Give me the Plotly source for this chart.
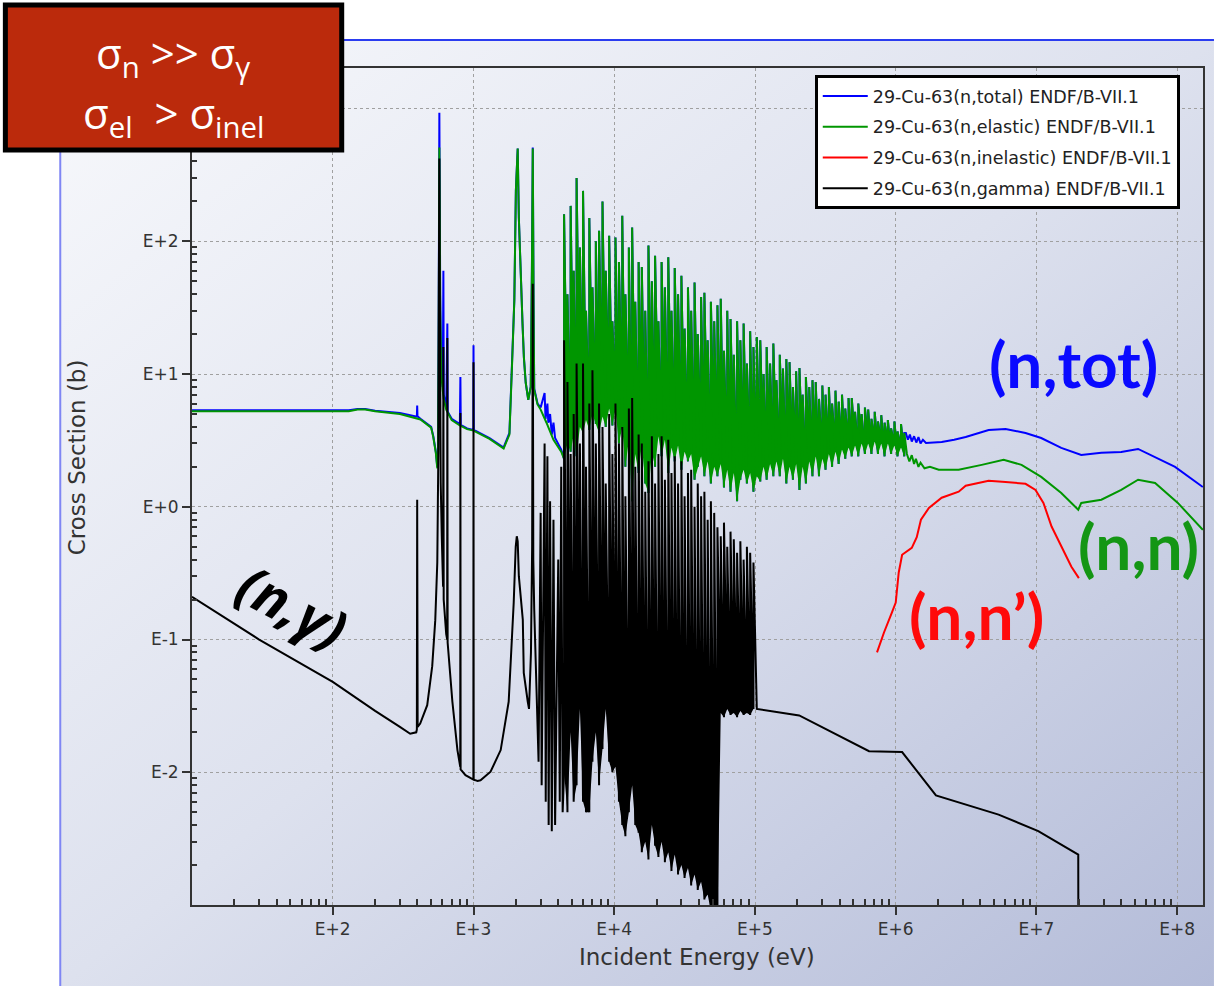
import base64
import plotly.graph_objects as go

# ---------------- data (energies in eV, cross sections in barns) ----------------
# total, low-energy region
tot_lo_E = [10, 130, 150, 170, 200, 300, 390, 396, 398, 400, 420, 500, 518, 540, 553, 560, 566, 570, 572, 575,
            580, 590, 605, 611, 615, 640, 652, 656, 700, 800, 807, 812, 900, 998, 1000, 1005, 1300, 1637, 1800, 1880,
            1950, 2000, 2061, 2100, 2170, 2230, 2280, 2350, 2450, 2550, 2600, 2637, 2670, 2700, 2850, 3000, 3200,
            3250, 3350, 3400, 3500, 3600, 3700, 3800, 4200]
tot_lo_s = [5.35, 5.35, 5.45, 5.45, 5.3, 5.1, 4.8, 4.8, 5.8, 4.8, 4.6, 4.0, 3.4, 2.6, 2.0, 2.5, 30, 400, 930, 300,
            40, 12, 8, 60, 7, 5.5, 24, 5.2, 4.6, 4.2, 9.5, 4.15, 3.9, 3.8, 16.5, 3.8, 3.3, 2.8, 3.6, 12,
            36, 240, 500, 150, 43, 24, 13.4, 8.6, 6.4, 8, 60, 510, 40, 7.8, 6, 5.6, 7.2,
            4.6, 6.0, 4.3, 5.0, 3.5, 4.3, 3.3, 2.7]

# elastic, low-energy region
el_lo_E = [10, 130, 150, 170, 200, 300, 420, 500, 518, 540, 553, 560, 566, 570, 572, 575, 580, 590, 605, 615,
           640, 700, 800, 900, 1000, 1300, 1637, 1800, 1880, 1950, 2000, 2061, 2100, 2170, 2230, 2280, 2350, 2450,
           2550, 2600, 2637, 2670, 2700, 2850, 3000, 3300, 3700, 4200]
el_lo_s = [5.25, 5.25, 5.4, 5.4, 5.25, 5.0, 4.55, 3.95, 3.35, 2.55, 1.95, 2.4, 20, 300, 509, 200, 30, 10, 7.5, 6.5,
           5.4, 4.5, 4.1, 3.85, 3.75, 3.25, 2.75, 3.5, 12, 36, 240, 500, 150, 43, 24, 13.4, 8.6, 6.4,
           8, 60, 500, 40, 7.6, 5.9, 5.4, 4.3, 3.2, 2.6]

# capture, low-energy region
cap_lo_E = [10, 30, 100, 200, 300, 355, 392, 396, 398, 401, 418, 469, 509, 535, 553, 563, 568, 572, 576, 585,
            595, 608, 611, 614, 640, 650, 652, 655, 708, 769, 805, 807, 810, 877, 921, 998, 1000, 1003, 1068, 1122,
            1322, 1560, 1778, 1931, 1995, 2030, 2061, 2100, 2240, 2276, 2430, 2480, 2560, 2610, 2637, 2660, 2700,
            2800, 2900, 3000, 3050, 3200, 3260, 3350, 3420, 3500, 3600, 3700, 3800, 4000, 4100, 4200, 4300]
cap_lo_s = [0.21, 0.10, 0.048, 0.029, 0.022, 0.0195, 0.020, 0.021, 1.13, 0.022, 0.0233, 0.032, 0.063, 0.14, 0.38,
            2.7, 60, 420, 50, 1.5, 0.6, 0.25, 16, 0.2, 0.11, 0.1, 18.7, 0.095, 0.034, 0.0147, 0.011, 5.1, 0.0105,
            0.0095, 0.0092, 0.0088, 12.3, 0.0088, 0.0086, 0.0087, 0.0101, 0.0147, 0.034, 0.19, 0.5, 0.6, 0.55, 0.3,
            0.141, 0.056, 0.034, 0.030, 0.08, 0.5, 48, 0.4, 0.17, 0.035, 0.012, 0.9, 0.008, 3.0, 0.006, 2.4, 0.004,
            1.1, 0.0036, 0.8, 0.004, 0.4, 0.006, 2.0, 0.005]

# resolved/unresolved resonance region: resonance energies (keV) with peak and valley values
res_E_keV = [4.4, 4.65, 4.9, 5.15, 5.4, 5.7, 6.0, 6.3, 6.65, 7.0,
             7.4, 7.8, 8.25, 8.7, 9.2, 9.7, 10.2, 10.8, 11.4, 12.0,
             12.7, 13.4, 14.1, 14.9, 15.7, 16.6, 17.5, 18.5, 19.5, 20.6,
             21.7, 22.9, 24.2, 25.5, 26.9, 28.4, 30.0, 31.6, 33.4, 35.2,
             37.2, 39.2, 41.4, 43.7, 46.1, 48.6, 51.3, 54.1, 57.1, 60.2,
             63.5, 67.0, 70.7, 74.6, 78.7, 83.0, 87.6, 92.4, 97.5, 103,
             109, 115, 121, 128, 135, 142, 150, 158, 167, 176,
             186, 196, 207, 218, 230, 243, 256, 270, 285, 301,
             317, 335, 353, 373, 393, 415, 438, 462, 487, 514,
             542, 572, 604, 637, 672, 709, 748, 789, 833, 879,
             927, 978, 1030, 1090, 1150]
el_res_top = [160, 40, 185, 60, 300, 90, 240, 30, 150, 45,
              100, 120, 200, 60, 110, 25, 107, 70, 156, 40,
              90, 127, 35, 70, 64, 30, 93, 50, 78, 25,
              70, 45, 76, 30, 63, 40, 55, 22, 45, 30,
              49, 20, 38, 41, 18, 35, 25, 33, 37, 15,
              30, 26, 14, 25, 18, 24, 12, 21, 16, 19,
              18, 10, 16, 12, 17, 9, 14, 11, 13, 12.3,
              8, 10.5, 11.1, 7, 9.5, 8, 9, 8.7, 6.5, 8.2,
              7, 8.0, 6, 7.5, 6.2, 7.0, 5.5, 6.6, 6.6, 5.2,
              6.0, 5.0, 5.6, 5.4, 4.6, 5.2, 4.4, 4.9, 4.3, 4.5,
              3.9, 4.4, 3.7, 4.2, 3.6]
el_res_bot = [2.3, 3.0, 2.6, 3.5, 2.4, 4.0, 3.6, 4.5, 3.8, 5.0,
              4.2, 3.6, 4.8, 4.0, 5.5, 4.1, 5.4, 3.0, 4.0, 2.0,
              3.2, 1.1, 2.5, 1.8, 3.0, 1.5, 1.27, 2.6, 2.0, 3.4,
              2.4, 3.2, 1.8, 2.8, 2.2, 2.9, 1.9, 2.6, 2.2, 2.5,
              1.6, 2.0, 2.4, 1.7, 2.2, 1.5, 2.0, 1.7, 2.1, 1.4,
              1.9, 1.3, 1.8, 1.1, 1.6, 1.9, 1.5, 1.8, 1.3, 1.7,
              1.55, 2.0, 1.6, 2.1, 1.7, 2.2, 1.7, 2.3, 1.5, 2.0,
              1.6, 2.1, 1.34, 2.0, 1.5, 2.2, 1.7, 2.4, 1.7, 2.3,
              1.9, 2.5, 2.0, 2.6, 2.1, 2.7, 2.3, 2.8, 2.4, 2.9,
              2.4, 3.0, 2.5, 3.0, 2.5, 3.1, 2.5, 3.0, 2.4, 3.0,
              2.5, 2.9, 2.4, 2.8, 2.4]
cap_res_top = [18, 8.7, 2.5, 5, 12, 3, 12, 2, 6, 10.7,
               3, 6, 4, 1.5, 5, 2.5, 6, 3, 4, 1.2,
               5.5, 6.6, 2, 3.5, 3.0, 1.3, 2.2, 3.4, 1.5, 2.5,
               3.4, 1.6, 3.2, 1.8, 2.4, 1.5, 2.2, 1.2, 1.8, 1.9,
               1.0, 1.5, 1.2, 1.3, 0.8, 1.1, 0.9, 0.7, 0.6, 0.76,
               0.5, 0.65, 0.57, 0.45, 0.55, 0.4, 0.5, 0.45, 0.38]
cap_res_bot = [0.01, 0.005, 0.02, 0.006, 0.008, 0.03, 0.006, 0.005, 0.005, 0.012,
               0.02, 0.008, 0.015, 0.03, 0.012, 0.01, 0.011, 0.006, 0.004, 0.0033,
               0.005, 0.008, 0.004, 0.0035, 0.0025, 0.003, 0.0022, 0.004, 0.0028, 0.0023,
               0.003, 0.0021, 0.0025, 0.0018, 0.0024, 0.0017, 0.002, 0.0016, 0.0019, 0.0014,
               0.0017, 0.0013, 0.0015, 0.0011, 0.0012, 0.0009, 0.0008, 0.0007, 0.028, 0.026,
               0.03, 0.027, 0.028, 0.026, 0.029, 0.027, 0.028, 0.027, 0.03]

# high-energy region
tot_hi_E = [1.18e6, 1.22e6, 1.26e6, 1.3e6, 1.35e6, 1.4e6, 1.45e6, 1.5e6, 1.56e6, 1.64e6,
            1.8e6, 2.12e6, 2.6e6, 3.14e6, 4.57e6, 6.03e6, 8.36e6, 1.08e7, 1.5e7, 2.08e7,
            2.89e7, 4.0e7, 5.27e7, 6.96e7, 9.65e7, 1.52e8]
tot_hi_s = [3.6, 3.2, 3.5, 3.1, 3.4, 3.05, 3.35, 3.0, 3.2, 3.03,
            3.05, 3.08, 3.2, 3.36, 3.79, 3.86, 3.60, 3.30, 2.78, 2.46,
            2.55, 2.59, 2.73, 2.38, 2.0, 1.41]
el_hi_E = [1.2e6, 1.25e6, 1.3e6, 1.35e6, 1.39e6, 1.45e6, 1.5e6, 1.6e6, 1.75e6, 2.02e6,
           2.8e6, 4.08e6, 5.84e6, 7.83e6, 1.08e7, 1.5e7, 1.98e7, 2.08e7, 2.89e7, 4.0e7,
           5.27e7, 6.96e7, 1.01e8, 1.52e8]
el_hi_s = [2.5, 2.2, 2.45, 2.1, 2.3, 2.0, 2.15, 1.95, 2.0, 1.90,
           1.90, 2.07, 2.26, 2.07, 1.68, 1.27, 0.95, 1.07, 1.13, 1.34,
           1.60, 1.51, 1.07, 0.67]
inel_E = [7.36e5, 8.25e5, 9.4e5, 1.0e6, 1.05e6, 1.11e6, 1.30e6, 1.41e6, 1.51e6, 1.72e6,
          2.12e6, 2.8e6, 3.14e6, 4.57e6, 6.03e6, 8.36e6, 9.84e6, 1.12e7, 1.28e7, 1.5e7,
          1.77e7, 2.0e7]
inel_s = [0.080, 0.113, 0.16, 0.19, 0.32, 0.435, 0.49, 0.59, 0.80, 0.98,
          1.17, 1.30, 1.44, 1.57, 1.54, 1.49, 1.34, 1.07, 0.71, 0.50,
          0.354, 0.29]
cap_hi_E = [1.03e5, 2.06e5, 6.46e5, 1.11e6, 1.93e6, 5.38e6, 1.03e7, 1.98e7, 2.0e7]
cap_hi_s = [0.030, 0.0268, 0.0144, 0.0142, 0.0067, 0.0048, 0.0036, 0.0024, 1e-6]

# axis ticks (the E+3 label sits under the red box in the reference, so it is left blank)
x_tick_vals = [1e2, 1e3, 1e4, 1e5, 1e6, 1e7, 1e8]
x_tick_text = ["E+2", "E+3", "E+4", "E+5", "E+6", "E+7", "E+8"]
y_tick_vals = [1e-2, 1e-1, 1e0, 1e1, 1e2, 1e3]
y_tick_text = ["E-2", "E-1", "E+0", "E+1", "E+2", ""]

series_names = ["29-Cu-63(n,total) ENDF/B-VII.1", "29-Cu-63(n,elastic) ENDF/B-VII.1",
                "29-Cu-63(n,inelastic) ENDF/B-VII.1", "29-Cu-63(n,gamma) ENDF/B-VII.1"]
BLUE, GREEN, RED, BLACK = "#0000ff", "#009600", "#ff0000", "#000000"


# ---------------- build line paths ----------------
def zigzag(E_keV, top, bot):
    xs, ys = [], []
    for e, t, b in zip(E_keV, top, bot):
        xs += [e * 1e3, e * 1e3]
        ys += [b, t]
    return xs, ys


n_cap = len(cap_res_top)
res_E_eV = [e * 1e3 for e in res_E_keV]
el_zx, el_zy = zigzag(res_E_keV, el_res_top, el_res_bot)
cap_zx, cap_zy = zigzag(res_E_keV[:n_cap], cap_res_top, cap_res_bot)

tot_x = tot_lo_E + el_zx + tot_hi_E
tot_y = tot_lo_s + el_zy + tot_hi_s
el_x = el_lo_E + el_zx + el_hi_E
el_y = el_lo_s + el_zy + el_hi_s
cap_x = cap_lo_E + cap_zx + cap_hi_E
cap_y = cap_lo_s + cap_zy + cap_hi_s

# ---------------- figure geometry (pixels) ----------------
W, H = 1216, 986
PL, PR, PT, PB = 192, 1205, 68, 905


def px(x):
    return (x - PL) / (PR - PL)


def py(y):
    return (PB - y) / (PB - PT)


fig = go.Figure()


def line(xs, ys, color, name=None, width=2):
    fig.add_trace(go.Scatter(x=xs, y=ys, mode="lines", name=name, legendgroup=name,
                             showlegend=name is not None,
                             line=dict(color=color, width=width), hoverinfo="skip"))


def band(xs_bot, ys_bot, xs_zig, ys_zig, color):
    fig.add_trace(go.Scatter(x=xs_bot, y=ys_bot, mode="lines", showlegend=False,
                             line=dict(color=color, width=0), hoverinfo="skip"))
    fig.add_trace(go.Scatter(x=xs_zig, y=ys_zig, mode="lines", showlegend=False, fill="tonexty",
                             fillcolor=color, line=dict(color=color, width=0), hoverinfo="skip"))


line(tot_x, tot_y, BLUE, series_names[0])
band(res_E_eV, el_res_bot, el_zx, el_zy, GREEN)
line(el_x, el_y, GREEN, series_names[1])
line(inel_E, inel_s, RED, series_names[2])
band(res_E_eV[:n_cap], cap_res_bot, cap_zx, cap_zy, BLACK)
line(cap_x, cap_y, BLACK, series_names[3])

minor_x = [m * d for d in [1e1, 1e2, 1e3, 1e4, 1e5, 1e6, 1e7, 1e8] for m in range(2, 10)]
minor_y = [m * d for d in [1e-3, 1e-2, 1e-1, 1e0, 1e1, 1e2, 1e3] for m in range(2, 10)]

axis_common = dict(type="log", showline=True, linecolor="#333333", linewidth=2, mirror=True,
                   ticks="outside", ticklen=8, tickwidth=1.5, tickcolor="#333333",
                   showgrid=True, gridcolor="#a0a0a0", griddash="dot", gridwidth=1,
                   zeroline=False, tickfont=dict(family="DejaVu Sans", size=17, color="#333333"))

fig.update_xaxes(**axis_common, range=[1.0, 8.183], tickvals=x_tick_vals, ticktext=x_tick_text,
                 minor=dict(tickvals=minor_x, ticks="inside", ticklen=6, tickwidth=1.5,
                            tickcolor="#333333", showgrid=False))
fig.update_yaxes(**axis_common, range=[-3.0, 3.306], tickvals=y_tick_vals, ticktext=y_tick_text,
                 minor=dict(tickvals=minor_y, ticks="inside", ticklen=5, tickwidth=1.5,
                            tickcolor="#333333", showgrid=False))

# gradient panel background
svg = ('<svg xmlns="http://www.w3.org/2000/svg" width="1156" height="946">'
       '<defs><linearGradient id="g" x1="0" y1="0" x2="1" y2="1">'
       '<stop offset="0" stop-color="#f8f9fc"/><stop offset="0.5" stop-color="#dde1ee"/>'
       '<stop offset="1" stop-color="#b3bbd8"/></linearGradient></defs>'
       '<rect width="1156" height="946" fill="url(#g)"/></svg>')
src = "data:image/svg+xml;base64," + base64.b64encode(svg.encode()).decode()
fig.add_layout_image(dict(source=src, xref="paper", yref="paper", x=px(60), y=py(40),
                          sizex=(W - 60) / (PR - PL), sizey=(H - 40) / (PB - PT),
                          xanchor="left", yanchor="top", sizing="stretch", layer="below"))

shapes = [
    dict(type="line", xref="paper", yref="paper", x0=px(60), x1=px(W), y0=py(40), y1=py(40),
         line=dict(color="#2a3cf0", width=2)),
    dict(type="line", xref="paper", yref="paper", x0=px(60), x1=px(60), y0=py(40), y1=py(H),
         line=dict(color="#7f86f4", width=2)),
    dict(type="rect", xref="paper", yref="paper", x0=px(5), x1=px(342), y0=py(150), y1=py(5),
         line=dict(color="#000000", width=5), fillcolor="#bb2a0c", layer="above"),
]
fig.update_layout(shapes=shapes)

ann = []
calibri = "Lato, Open Sans, sans-serif"
ann.append(dict(text="<b>(n,tot)</b>", x=px(1075), y=py(363), font=dict(family=calibri, size=64, color="#0a0aff")))
ann.append(dict(text="<b>(n,n)</b>", x=px(1140), y=py(545), font=dict(family=calibri, size=64, color="#149614")))
ann.append(dict(text="<b>(n,n\u2019)</b>", x=px(978), y=py(615), font=dict(family=calibri, size=64, color="#ff0a0a")))
ann.append(dict(text="<b><i>(n,\u03b3)</i></b>", x=px(293), y=py(605), textangle=28,
                font=dict(family="Open Sans, sans-serif", size=55, color="#000000")))
ann.append(dict(text="\u03c3<sub>n</sub> >> \u03c3<sub>\u03b3</sub>", x=px(173), y=py(55),
                font=dict(family="Open Sans, sans-serif", size=42, color="#ffffff")))
ann.append(dict(text="\u03c3<sub>el</sub>\u00a0 > \u03c3<sub>inel</sub>", x=px(173), y=py(115),
                font=dict(family="Open Sans, sans-serif", size=42, color="#ffffff")))
ann.append(dict(text="Incident Energy (eV)", x=px(698), y=py(957),
                font=dict(family="DejaVu Sans", size=23, color="#333333")))
ann.append(dict(text="Cross Section (b)", x=px(77), y=py(457), textangle=-90,
                font=dict(family="DejaVu Sans", size=23, color="#333333")))
for a in ann:
    a.update(xref="paper", yref="paper", showarrow=False, xanchor="center", yanchor="middle")
fig.update_layout(annotations=ann)

fig.update_layout(
    width=W, height=H, autosize=False,
    margin=dict(l=PL, r=W - PR, t=PT, b=H - PB, pad=0),
    paper_bgcolor="#ffffff", plot_bgcolor="#ffffff",
    showlegend=True,
    legend=dict(x=px(816), y=py(75), xanchor="left", yanchor="top", bgcolor="#ffffff",
                bordercolor="#000000", borderwidth=3, traceorder="grouped", tracegroupgap=5,
                font=dict(family="DejaVu Sans", size=17.5, color="#222222"), itemwidth=45),
)

fig.write_html("out.html", config={"displayModeBar": False},
               post_script="document.body.style.margin='0';")
